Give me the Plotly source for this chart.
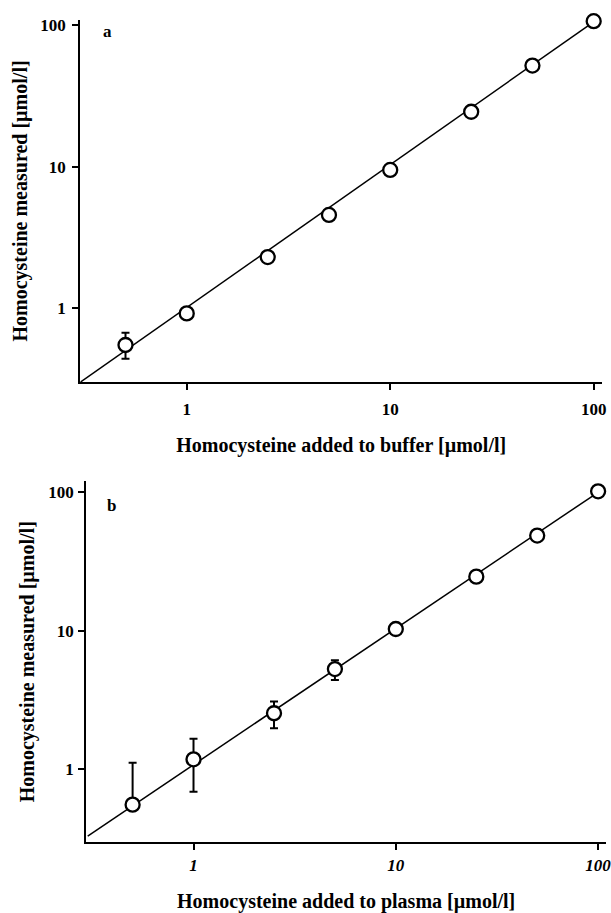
import plotly.graph_objects as go

# ---- data ----
added = [0.5, 1, 2.5, 5, 10, 25, 50, 100]

buffer_measured = [0.55, 0.92, 2.30, 4.57, 9.5, 24.5, 52, 107]
buffer_err_plus = [0.12, 0, 0, 0, 0, 0, 0, 0]
buffer_err_minus = [0.11, 0, 0, 0, 0, 0, 0, 0]

plasma_measured = [0.556, 1.18, 2.54, 5.29, 10.3, 24.6, 48.7, 101.6]
plasma_err_plus = [0.56, 0.48, 0.55, 0.84, 0, 0, 0, 0]
plasma_err_minus = [0, 0.49, 0.56, 0.87, 0, 0, 0, 0]

fit_a_x = [0.3, 100]
fit_a_y = [0.3, 106]
fit_b_x = [0.3, 100]
fit_b_y = [0.33, 100]

tick_vals = [1, 10, 100]
tick_text = ["1", "10", "100"]

FONT = "Liberation Serif"
W, H = 611, 913

fig = go.Figure()

marker_style = dict(symbol="circle", size=14, color="white",
                    line=dict(color="black", width=2.3))

# panel a
fig.add_trace(go.Scatter(x=fit_a_x, y=fit_a_y, mode="lines",
                         line=dict(color="black", width=1.5),
                         xaxis="x", yaxis="y", showlegend=False, hoverinfo="skip"))
fig.add_trace(go.Scatter(x=added, y=buffer_measured, mode="markers",
                         marker=marker_style,
                         error_y=dict(type="data", array=buffer_err_plus,
                                      arrayminus=buffer_err_minus, symmetric=False,
                                      color="black", thickness=2, width=4),
                         cliponaxis=False, xaxis="x", yaxis="y", showlegend=False))

# panel b
fig.add_trace(go.Scatter(x=fit_b_x, y=fit_b_y, mode="lines",
                         line=dict(color="black", width=1.5),
                         xaxis="x2", yaxis="y2", showlegend=False, hoverinfo="skip"))
fig.add_trace(go.Scatter(x=added, y=plasma_measured, mode="markers",
                         marker=marker_style,
                         error_y=dict(type="data", array=plasma_err_plus,
                                      arrayminus=plasma_err_minus, symmetric=False,
                                      color="black", thickness=2, width=4),
                         cliponaxis=False, xaxis="x2", yaxis="y2", showlegend=False))

tickfont = dict(family=FONT, size=17, color="black", weight="bold")
titlefont = dict(family=FONT, size=20, color="black", weight="bold")

def axis_common(**kw):
    d = dict(type="log", showline=True, linecolor="black", linewidth=2.2,
             ticks="outside", ticklen=6, tickwidth=2, tickcolor="black",
             showgrid=False, zeroline=False, tickvals=tick_vals, ticktext=tick_text,
             tickfont=tickfont, title_font=titlefont, ticklabeloverflow="allow")
    d.update(kw)
    return d

fig.update_layout(
    width=W, height=H,
    margin=dict(l=0, r=0, t=0, b=0),
    paper_bgcolor="white", plot_bgcolor="white",
    xaxis=axis_common(domain=[81 / W, 607 / W], range=[-0.523, 2.041],
                      anchor="y", ticklabelstandoff=4,
                      title=dict(text="Homocysteine added to buffer [µmol/l]", standoff=20)),
    yaxis=axis_common(domain=[1 - 386 / H, 1 - 17 / H], range=[-0.523, 2.04],
                      anchor="x", ticklabelstandoff=3,
                      title=dict(text="Homocysteine measured [µmol/l]", standoff=7)),
    xaxis2=axis_common(domain=[87 / W, 1.0], range=[-0.53, 2.039],
                       anchor="y2", ticklabelstandoff=0,
                       tickfont=dict(family=FONT, size=17, color="black",
                                     weight="bold", style="italic"),
                       title=dict(text="Homocysteine added to plasma [µmol/l]", standoff=24)),
    yaxis2=axis_common(domain=[1 - 854 / H, 1 - 487 / H], range=[-0.525, 2.078],
                       anchor="x2", ticklabelstandoff=1,
                       title=dict(text="Homocysteine measured [µmol/l]", standoff=8)),
    annotations=[
        dict(text="a", x=102 / W, y=1 - 17 / H, xref="paper", yref="paper",
             showarrow=False, xanchor="left", yanchor="top",
             font=dict(family=FONT, size=17, color="black", weight="bold")),
        dict(text="b", x=106 / W, y=1 - 500 / H, xref="paper", yref="paper",
             showarrow=False, xanchor="left", yanchor="top",
             font=dict(family=FONT, size=17, color="black", weight="bold")),
    ],
)

fig.write_html("out.html", config={"displayModeBar": False},
               post_script="document.body.style.margin='0';")
